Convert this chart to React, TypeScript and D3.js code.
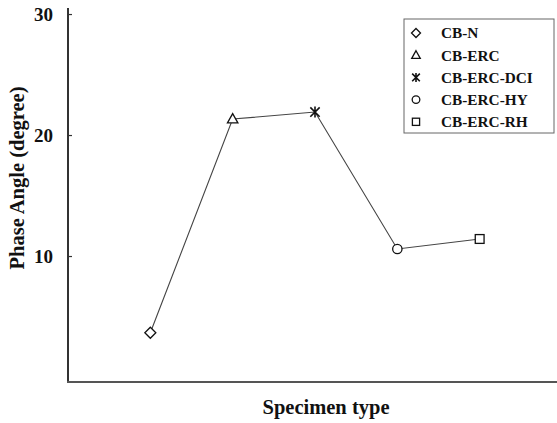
import React from "react";
import * as d3 from "d3";

const categories = ["CB-N", "CB-ERC", "CB-ERC-DCI", "CB-ERC-HY", "CB-ERC-RH"];
const phaseAngle = [3.7, 21.36, 21.94, 10.62, 11.45];
const markers = ["diamond", "triangle", "star", "circle", "square"];
const yTicks = [10, 20, 30];

const W = 557, H = 423;
const left = 68, bottom = 382, top = 8, right = 562;

const x = d3.scalePoint<string>().domain(categories).range([left, right]).padding(1);
const y = d3.scaleLinear().domain([-0.37, 30.54]).range([bottom, top]);

const font = "'Liberation Serif', 'Times New Roman', serif";

function Marker({ type, cx, cy, s }: { type: string; cx: number; cy: number; s: number }) {
  const common = { fill: "white", stroke: "#111", strokeWidth: 1.3 };
  if (type === "diamond") {
    return <path d={`M${cx},${cy - s}L${cx + s},${cy}L${cx},${cy + s}L${cx - s},${cy}Z`} {...common} />;
  }
  if (type === "triangle") {
    return <path d={`M${cx},${cy - s}L${cx + s * 0.95},${cy + s * 0.7}L${cx - s * 0.95},${cy + s * 0.7}Z`} {...common} />;
  }
  if (type === "circle") {
    return <circle cx={cx} cy={cy} r={s * 0.85} {...common} />;
  }
  if (type === "square") {
    return <rect x={cx - s * 0.8} y={cy - s * 0.8} width={s * 1.6} height={s * 1.6} {...common} />;
  }
  const d = s * 0.85;
  return (
    <path
      d={`M${cx},${cy - s}L${cx},${cy + s}M${cx - d},${cy - d}L${cx + d},${cy + d}M${cx + d},${cy - d}L${cx - d},${cy + d}`}
      stroke="#111"
      strokeWidth={1.6}
      fill="none"
    />
  );
}

export default function App() {
  const line = d3
    .line<number>()
    .x((_, i) => x(categories[i]) as number)
    .y((d) => y(d));

  const legX = 404, legY = 19, legW = 150, legH = 114;
  const rowH = 22.2;

  return (
    <svg width={W} height={H} style={{ position: "absolute", left: 0, top: 0, background: "white" }}>
      <rect x={0} y={0} width={W} height={H} fill="white" />
      {/* axes */}
      <line x1={left} y1={top} x2={left} y2={bottom} stroke="#333" strokeWidth={2} />
      <line x1={left - 1} y1={bottom} x2={W} y2={bottom} stroke="#555" strokeWidth={2} />
      {yTicks.map((t) => (
        <g key={t}>
          <line x1={left} x2={left + 4} y1={y(t)} y2={y(t)} stroke="#333" strokeWidth={1.2} />
          <text
            x={53}
            y={y(t)}
            dy="0.35em"
            textAnchor="end"
            fontFamily={font}
            fontWeight="bold"
            fontSize={19}
            fill="#111"
          >
            {t}
          </text>
        </g>
      ))}
      <text
        transform={`translate(24,178) rotate(-90)`}
        textAnchor="middle"
        fontFamily={font}
        fontWeight="bold"
        fontSize={20.5}
        fill="#111"
      >
        Phase Angle (degree)
      </text>
      <text x={326} y={414} textAnchor="middle" fontFamily={font} fontWeight="bold" fontSize={20.5} fill="#111">
        Specimen type
      </text>
      {/* data line */}
      <path d={line(phaseAngle) || ""} fill="none" stroke="#444" strokeWidth={1.1} />
      {phaseAngle.map((v, i) => (
        <Marker key={i} type={markers[i]} cx={x(categories[i]) as number} cy={y(v)} s={5.5} />
      ))}
      {/* legend */}
      <rect x={legX} y={legY} width={legW} height={legH} fill="white" stroke="#666" strokeWidth={1} />
      {categories.map((c, i) => {
        const cy = legY + 14 + i * rowH;
        return (
          <g key={c}>
            <Marker type={markers[i]} cx={416} cy={cy} s={4.5} />
            <text
              x={441}
              y={cy}
              dy="0.35em"
              fontFamily={font}
              fontWeight="bold"
              fontSize={15.3}
              fill="#111"
            >
              {c}
            </text>
          </g>
        );
      })}
    </svg>
  );
}
